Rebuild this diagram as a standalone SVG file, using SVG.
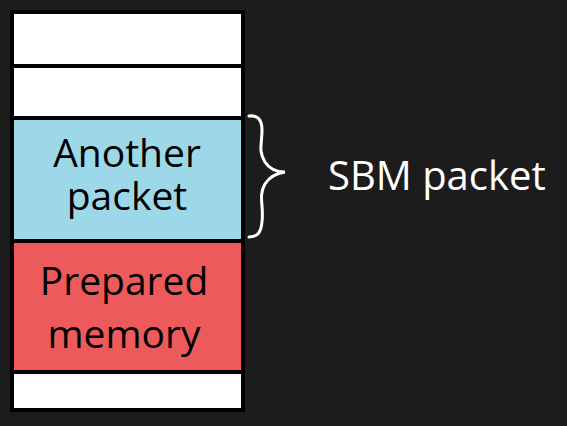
<svg xmlns="http://www.w3.org/2000/svg" width="567" height="426" viewBox="0 0 567 426">
<style>
.cell{stroke:#000;stroke-width:4}
.lbl{font-family:"Open Sans","Noto Sans",sans-serif;font-size:39px;fill:#000;text-anchor:middle}
.side{font-family:"Open Sans","Noto Sans",sans-serif;font-size:40px;fill:#fff}
</style>
<rect width="567" height="426" fill="#1c1c1c"/>
<g id="cell1"><rect class="cell" x="12" y="12" width="231" height="54" fill="#fff"/></g>
<g id="cell2"><rect class="cell" x="12" y="66" width="231" height="52" fill="#fff"/></g>
<g id="another"><rect class="cell" x="12" y="118" width="231" height="123" fill="#9dd8e8"/>
<text class="lbl" x="127" y="167">Another<tspan x="127" dy="43">packet</tspan></text></g>
<g id="prepared"><rect class="cell" x="12" y="241" width="231" height="131" fill="#ec5a5c"/>
<text class="lbl" x="124" y="295">Prepared<tspan x="124" dy="53">memory</tspan></text></g>
<g id="cell5"><rect class="cell" x="12" y="372" width="231" height="38" fill="#fff"/></g>
<g id="connectors">
<path d="M249 116 C258 115 262 120 262 130 C262 145 258 150 265 162 C270 170 278 172 285 172 C278 173 270 176 265 184 C258 196 264 205 262 222 C261 232 258 237 249 237" fill="none" stroke="#fff" stroke-width="3" stroke-linecap="round"/>
</g>
<g id="sbm"><text class="side" x="328" y="190">SBM packet</text></g>
</svg>
